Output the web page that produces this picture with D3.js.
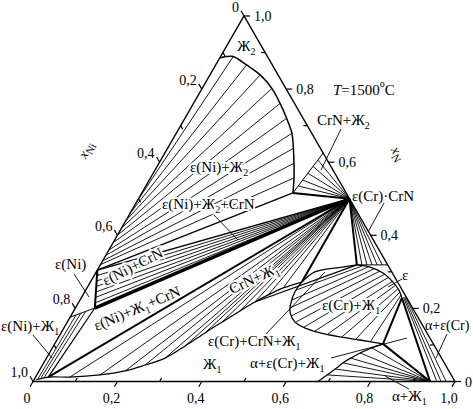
<!DOCTYPE html>
<html>
<head>
  <meta charset="utf-8">
  <title>Ni-Cr-N isothermal section, 1500 C</title>
  <script src="https://d3js.org/d3.v7.min.js"></script>
  <style>
    body { margin: 0; background: #fff; }
    svg { display: block; }
    text { font-family: "Liberation Serif", "DejaVu Serif", serif; fill: #000; }
  </style>
</head>
<body>
<svg class="chart" width="473" height="409"></svg>
<script>
// compositions are [xCr, xN], xNi = 1 - xCr - xN

// key points
const crN = [0.5, 0.5];
const epsNiA = [0, 0.305], epsNiB = [0.046, 0.201], epsNiE = [0, 0.176];
const liqZh2 = [0.358, 0.516], zh2Edge = [0.375, 0.625];
const liqZh1Ni = [0.03, 0.012];
const epsCr = [0.608, 0.319], epsCrEdge = [0.681, 0.319];
const liqZh1Cr = [0.501, 0.272];
const epsCrLow = [0.760, 0.2285], liqAlpha = [0.778, 0.103], alphaPt = [0.941, 0];

// Ж2 liquid boundary
const zh2Curve = [[0, 0.885], [0.013, 0.889], [0.03, 0.889], [0.073, 0.866], [0.119, 0.839],
  [0.165, 0.802], [0.205, 0.761], [0.241, 0.72], [0.274, 0.679], [0.298, 0.638],
  [0.32, 0.597], [0.34, 0.557], [0.358, 0.516]];
// ε(Ni)+Ж2 tie lines: xN of ε(Ni) end on Ni-N side, liquid ends
const tieNiZh2Sol = [0.49, 0.46, 0.44, 0.42, 0.40, 0.38, 0.36, 0.345, 0.33, 0.32];
const tieNiZh2Liq = [[0.03, 0.889], [0.073, 0.866], [0.119, 0.839], [0.165, 0.802], [0.205, 0.761],
  [0.241, 0.72], [0.274, 0.679], [0.298, 0.638], [0.32, 0.597], [0.34, 0.557]];
// CrN+Ж2 tie line liquid ends
const tieCrnZh2 = [[0.361, 0.535], [0.364, 0.551], [0.366, 0.57], [0.369, 0.589], [0.372, 0.606]];
// ε(Ni)+CrN tie line ε(Ni) ends
const tieNiCrn = [[0.007, 0.29], [0.013, 0.275], [0.02, 0.26], [0.027, 0.245], [0.033, 0.23], [0.04, 0.215]];
// ε(Ni)+Ж1 tie lines
const tieNiZh1Sol = [[0.011, 0.182], [0.02, 0.187], [0.029, 0.193]];
const tieNiZh1Liq = [[0.008, 0.007], [0.014, 0.01], [0.021, 0.01]];
// Ж1 liquidus against CrN
const zh1Curve = [[0.005, 0.004], [0.03, 0.012], [0.081, 0.012], [0.15, 0.018], [0.204, 0.029],
  [0.243, 0.045], [0.281, 0.064], [0.312, 0.097], [0.341, 0.133], [0.367, 0.163],
  [0.394, 0.193], [0.417, 0.2175], [0.439, 0.237], [0.465, 0.256], [0.501, 0.272]];
const tieCrnZh1 = [[0.081, 0.012], [0.15, 0.018], [0.204, 0.029], [0.243, 0.045], [0.281, 0.064],
  [0.312, 0.097], [0.341, 0.133], [0.367, 0.163], [0.394, 0.193], [0.417, 0.2175],
  [0.439, 0.237], [0.465, 0.256]];
// ε(Cr) boundary and CrN+ε(Cr) ties
const epsCrCurve = [[0.608, 0.319], [0.642, 0.313], [0.681, 0.297], [0.717, 0.272], [0.742, 0.25], [0.760, 0.2285]];
const tieCrnEps = [[0.62, 0.319], [0.632, 0.319], [0.644, 0.319], [0.656, 0.319], [0.668, 0.319]];
// Ж1 boundary of ε(Cr)+Ж1
const liqEpsCurve = [[0.608, 0.319], [0.576, 0.313], [0.518, 0.3], [0.501, 0.272], [0.498, 0.245],
  [0.503, 0.2175], [0.514, 0.19], [0.539, 0.163], [0.572, 0.146], [0.614, 0.133],
  [0.667, 0.122], [0.718, 0.1135], [0.778, 0.103]];
const tieEpsZh1Liq = [[0.498, 0.25], [0.502, 0.223], [0.508, 0.201], [0.522, 0.179], [0.542, 0.163],
  [0.568, 0.149], [0.599, 0.138], [0.634, 0.13], [0.671, 0.122], [0.707, 0.116], [0.745, 0.108]];
const tieEpsZh1Sol = [[0.622, 0.316], [0.637, 0.313], [0.654, 0.308], [0.671, 0.302], [0.687, 0.294],
  [0.701, 0.286], [0.716, 0.275], [0.728, 0.264], [0.738, 0.253], [0.747, 0.245], [0.754, 0.237]];
const epsCrExtra = [0.417, 0.2175];
// α+Ж1
const alphaCurve = [[0.675, 0], [0.688, 0.018], [0.699, 0.034], [0.709, 0.051], [0.721, 0.064],
  [0.736, 0.078], [0.757, 0.092], [0.778, 0.103]];
const tieAlphaZh1 = [[0.688, 0.018], [0.699, 0.034], [0.709, 0.051], [0.721, 0.064], [0.736, 0.078], [0.757, 0.092]];
// α+ε(Cr)
const tieAlphaEpsSol = [[0.763, 0.23], [0.765, 0.231], [0.767, 0.232]];
const tieAlphaEpsAlpha = [[0.957, 0], [0.967, 0], [0.979, 0]];

const tickValues = d3.range(0, 1.0001, 0.1);

// scales
const x = d3.scaleLinear().domain([0, 1]).range([33, 455]);
const y = d3.scaleLinear().domain([0, 1]).range([381.5, 16]);
const P = d => [x(d[0] + d[1] / 2), y(d[1])];

const svg = d3.select(".chart");
const g = svg.append("g");
const gLabels = svg.append("g");

const straight = d3.line().x(d => P(d)[0]).y(d => P(d)[1]);
const smooth = d3.line().x(d => P(d)[0]).y(d => P(d)[1]).curve(d3.curveCatmullRom);

function seg(a, b, w) {
  g.append("path").attr("d", straight([a, b]))
    .attr("stroke", "#000").attr("stroke-width", w).attr("fill", "none");
}
function curve(pts, w) {
  g.append("path").attr("d", smooth(pts))
    .attr("stroke", "#000").attr("stroke-width", w).attr("fill", "none")
    .attr("stroke-linejoin", "round");
}

const thin = 0.9;

// tie lines
tieNiZh2Sol.forEach((n, i) => seg([0, n], tieNiZh2Liq[i], thin));
tieCrnZh2.forEach(p => seg(crN, p, thin));
tieNiCrn.forEach(p => seg(crN, p, thin));
tieNiZh1Sol.forEach((p, i) => seg(p, tieNiZh1Liq[i], thin));
tieCrnZh1.forEach(p => seg(crN, p, thin));
tieCrnEps.forEach(p => seg(crN, p, thin));
tieEpsZh1Liq.forEach((p, i) => seg(p, tieEpsZh1Sol[i], thin));
tieAlphaZh1.forEach(p => seg(alphaPt, p, thin));
tieAlphaEpsSol.forEach((p, i) => seg(p, tieAlphaEpsAlpha[i], thin));

// phase boundaries
curve(zh2Curve, 1.5);
curve(zh1Curve, 1.2);
curve(epsCrCurve, 1.2);
curve(liqEpsCurve, 1.3);
curve(alphaCurve, 1.2);
seg(liqZh2, zh2Edge, 1);
seg(epsCr, epsCrEdge, 1);
seg(epsNiE, epsNiB, 1);

// three-phase triangles
seg(epsNiA, liqZh2, 1.3);
seg(epsNiA, crN, 1.3);
seg(liqZh2, crN, 2);
seg(epsNiA, epsNiB, 2);
seg(epsNiB, crN, 3.5);
seg(liqZh1Ni, crN, 2);
seg(epsNiB, liqZh1Ni, 1.2);
seg(crN, epsCr, 2);
seg(crN, liqZh1Cr, 2);
seg(epsCr, epsCrExtra, 1.3);
seg(epsCrLow, liqAlpha, 2);
seg(epsCrLow, alphaPt, 2);
seg(liqAlpha, alphaPt, 2);

// triangle frame
g.append("path")
  .attr("d", straight([[0, 0], [1, 0], [0, 1]]) + "Z")
  .attr("fill", "none").attr("stroke", "#000").attr("stroke-width", 1.4);

// axes ticks
const fmt = v => v < 0.001 ? "0" : d3.format(".1f")(v).replace(".", ",");
const axes = [
  { pt: v => [0, 1 - v], out: [-0.5, -0.866], lab: p => ({ x: p[0] - 2, y: p[1] + 1, a: "end" }) },
  { pt: v => [1 - v, v], out: [1, 0], lab: p => ({ x: p[0] + 4, y: p[1] + 5, a: "start" }) },
  { pt: v => [v, 0], out: [-0.5, 0.866], lab: p => ({ x: p[0] - 3, y: p[1] + 16, a: "middle" }) }
];
axes.forEach(ax => {
  tickValues.forEach((v, i) => {
    const p = P(ax.pt(v));
    const major = i % 2 === 0;
    const len = major ? 6 : 4;
    const s = major ? 1 : -1;
    const e = [p[0] + s * len * ax.out[0], p[1] + s * len * ax.out[1]];
    g.append("line").attr("x1", p[0]).attr("y1", p[1]).attr("x2", e[0]).attr("y2", e[1])
      .attr("stroke", "#000").attr("stroke-width", 1.2);
    if (major) {
      const l = ax.lab(e);
      gLabels.append("text").attr("x", l.x).attr("y", l.y).attr("text-anchor", l.a)
        .style("font-size", "14px").text(fmt(v));
    }
  });
});

// region labels, "_" marks a subscript digit
const labels = [
  { t: "Ж_2", x: 237, y: 51 },
  { t: "ε(Ni)+Ж_2", x: 190, y: 172, halo: true },
  { t: "ε(Ni)+Ж_2+CrN", x: 162, y: 209, halo: true },
  { t: "CrN+Ж_2", x: 317, y: 125 },
  { t: "ε(Cr)·CrN", x: 352, y: 201 },
  { t: "ε(Ni)", x: 55, y: 269 },
  { t: "ε(Ni)+CrN", x: 135, y: 271, rot: -27, halo: true },
  { t: "ε(Ni)+Ж_1+CrN", x: 139, y: 313, rot: -23 },
  { t: "ε(Ni)+Ж_1", x: 1, y: 331 },
  { t: "CrN+Ж_1", x: 256, y: 283, rot: -25, halo: true },
  { t: "ε(Cr)+CrN+Ж_1", x: 208, y: 346 },
  { t: "Ж_1", x: 203, y: 369 },
  { t: "α+ε(Cr)+Ж_1", x: 250, y: 368 },
  { t: "ε(Cr)+Ж_1", x: 322, y: 310, halo: true },
  { t: "ε", x: 402, y: 280 },
  { t: "α+ε(Cr)", x: 425, y: 330, size: 14 },
  { t: "α+Ж_1", x: 392, y: 401 }
];
const leaders = [
  [[213, 214], [238, 240]], [[341, 129], [321, 170]], [[384, 203], [368, 232]],
  [[74, 274], [89, 297]], [[33, 335], [52, 358]], [[266, 334], [325, 272]],
  [[331, 358], [407, 338]], [[388, 287], [402, 279]], [[447, 334], [436, 358]],
  [[409, 389], [385, 376]]
];
leaders.forEach(l => gLabels.append("line")
  .attr("x1", l[0][0]).attr("y1", l[0][1]).attr("x2", l[1][0]).attr("y2", l[1][1])
  .attr("stroke", "#000").attr("stroke-width", 0.9));

labels.forEach(lb => {
  const t = gLabels.append("text").style("font-size", (lb.size || 15) + "px");
  if (lb.rot !== undefined) {
    t.attr("transform", `translate(${lb.x},${lb.y}) rotate(${lb.rot})`)
      .attr("text-anchor", "middle").attr("dy", "0.35em");
  } else {
    t.attr("x", lb.x).attr("y", lb.y);
  }
  if (lb.halo) {
    t.attr("stroke", "#fff").attr("stroke-width", 4).attr("paint-order", "stroke");
  }
  const parts = lb.t.split(/_(\d)/);
  parts.forEach((s, i) => {
    if (!s) return;
    if (i % 2 === 1) {
      t.append("tspan").attr("dy", 4).style("font-size", "10px").text(s);
    } else {
      t.append("tspan").attr("dy", i > 0 ? -4 : 0).text(s);
    }
  });
});

// temperature
const tt = gLabels.append("text").attr("x", 333).attr("y", 95).style("font-size", "15px");
tt.append("tspan").style("font-style", "italic").text("T");
tt.append("tspan").text("=1500");
tt.append("tspan").attr("dy", -8).style("font-size", "10px").text("o");
tt.append("tspan").attr("dy", 8).text("C");

// axis titles
const ax1 = gLabels.append("text").attr("transform", "translate(90,152) rotate(-60)")
  .attr("text-anchor", "middle").style("font-size", "14px");
ax1.append("tspan").style("font-style", "italic").text("x");
ax1.append("tspan").attr("dy", 3).style("font-size", "11px").text("Ni");
const ax2 = gLabels.append("text").attr("transform", "translate(394,156) rotate(60)")
  .attr("text-anchor", "middle").style("font-size", "14px");
ax2.append("tspan").style("font-style", "italic").text("x");
ax2.append("tspan").attr("dy", 3).style("font-size", "11px").text("N");
</script>
</body>
</html>
